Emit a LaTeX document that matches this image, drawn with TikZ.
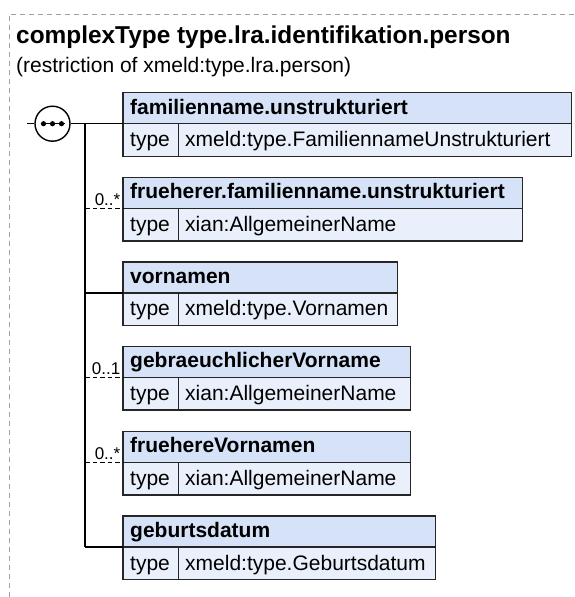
\documentclass[tikz,border=0pt]{standalone}
\usepackage{fontspec}
\setmainfont{Liberation Sans}
\definecolor{hdrfill}{RGB}{214,226,247}
\definecolor{rowfill}{RGB}{234,240,251}
\definecolor{framegray}{RGB}{160,160,160}
\tikzset{
  boxcell/.style={draw=black!85, line width=1.4pt, inner sep=0pt, outer sep=0pt, anchor=north west},
  hdrcell/.style={boxcell, fill=hdrfill, minimum height=31pt},
  rowcell/.style={boxcell, fill=rowfill, minimum height=32.5pt},
  hdrtext/.style={font=\fontsize{21}{24}\selectfont\bfseries, inner sep=0pt, anchor=base west},
  rowtext/.style={font=\fontsize{21}{24}\selectfont, inner sep=0pt, anchor=base west},
  cardtext/.style={font=\fontsize{17}{20}\selectfont, inner sep=0pt, anchor=base east},
  conn/.style={line width=1.3pt, black},
  optconn/.style={conn, dash pattern=on 4.5pt off 3pt},
}
\newcommand\elembox[5]{%
  \node[hdrcell, minimum width={#3pt-123pt}] (#1h) at (123,#2) {};
  \node[rowcell, minimum width=55.3pt] (#1t) at (#1h.south west) {};
  \node[rowcell, minimum width={#3pt-178.3pt}] (#1v) at (#1t.north east) {};
  \node[hdrtext] (#1ht) at (130,#2+21.3) {#4};
  \node[rowtext] (#1tt) at (130,#2+54) {type};
  \node[rowtext] (#1vt) at (185,#2+54) {#5};
}
\begin{document}
\begin{tikzpicture}[x=1pt,y=-1pt]
\useasboundingbox (0,0) rectangle (574,597);
% frame
\coordinate (fc) at (9,14);
\coordinate (fr) at (574,14);
\coordinate (fb) at (9,597);
\draw[framegray, line width=1pt, dash pattern=on 5pt off 4pt] (fr) -- (fc) -- (fb);
% title
\node[font=\fontsize{24.4}{28}\selectfont\bfseries, inner sep=0pt, anchor=base west] (title) at (16,43.5) {complexType type.lra.identifikation.person};
\node[font=\fontsize{21}{24}\selectfont, inner sep=0pt, anchor=base west] (subtitle) at (16,72) {(restriction of xmeld:type.lra.person)};
% boxes
\elembox{a}{92.7}{571.7}{familienname.unstrukturiert}{xmeld:type.FamiliennameUnstrukturiert}
\elembox{b}{177.3}{522.7}{frueherer.familienname.unstrukturiert}{xian:AllgemeinerName}
\elembox{c}{261.9}{397.7}{vornamen}{xmeld:type.Vornamen}
\elembox{d}{346.6}{410.7}{gebraeuchlicherVorname}{xian:AllgemeinerName}
\elembox{e}{431.3}{410.7}{fruehereVornamen}{xian:AllgemeinerName}
\elembox{f}{516}{435.3}{geburtsdatum}{xmeld:type.Geburtsdatum}
% sequence compositor
\node[circle, draw=black, line width=1.4pt, fill=white, minimum size=35pt, inner sep=0pt] (seq) at (52.5,123.7) {};
\coordinate (stub) at (27,123.7);
\coordinate (vtop) at (85,123.7);
\draw[conn] (stub) -- (seq.west);
\draw[conn] (seq.east) -- (ah.south west);
\coordinate (d1) at ([xshift=-9pt]seq.center);
\coordinate (d2) at (seq.center);
\coordinate (d3) at ([xshift=9pt]seq.center);
\draw[line width=1.3pt] ([xshift=-3pt]d1) -- ([xshift=3pt]d3);
\foreach \d in {d1,d2,d3} \fill (\d) circle (2.6pt);
% spine
\draw[conn] (vtop) -- (vtop |- fh.south west);
\draw[optconn] (vtop |- bh.south west) -- (bh.south west);
\draw[conn] (vtop |- ch.south west) -- (ch.south west);
\draw[optconn] (vtop |- dh.south west) -- (dh.south west);
\draw[optconn] (vtop |- eh.south west) -- (eh.south west);
\draw[conn] (vtop |- fh.south west) -- (fh.south west);
% cardinalities
\node[cardtext] (cb) at (120.5,205.5) {0..*};
\node[cardtext] (cd) at (120.5,374.8) {0..1};
\node[cardtext] (ce) at (120.5,459.5) {0..*};
\end{tikzpicture}
\end{document}
